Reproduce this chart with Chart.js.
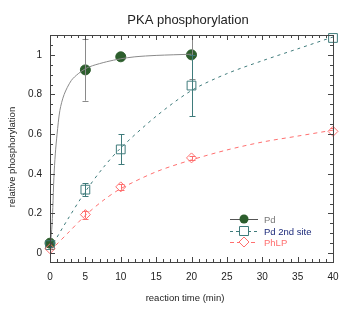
<!DOCTYPE html>
<html lang="en">
<head>
<meta charset="UTF-8">
<title>PKA phosphorylation</title>
<script src="https://cdn.jsdelivr.net/npm/chart.js"></script>
<style>
  html, body { margin: 0; padding: 0; background: #fff; }
  #wrap { width: 343px; height: 331px; }
</style>
</head>
<body>
<div id="wrap"><canvas id="chart" width="343" height="331"></canvas></div>
<script>
// measured points
const timeMin = [0, 5, 10, 20, 40];
const pdTime = [0, 5, 10, 20];
const pdValues = [0.05, 0.924, 0.99, 1.0];
const pdErr = [0, 0.155, 0, 0.12];
const pd2Values = [0.04, 0.32, 0.523, 0.845, 1.085];
const pd2Err = [0.01, 0.033, 0.076, 0.155, 0];
const phlpValues = [0.022, 0.194, 0.334, 0.48, 0.614];
const phlpErr = [0, 0.02, 0.015, 0.01, 0.015];

// fitted curves
const pdFitX = [0, 0.12, 0.25, 0.4, 0.55, 0.75, 1, 1.4, 2, 3, 4, 5, 6, 8, 10, 12, 15, 20];
const pdFitY = [0.03, 0.07, 0.12, 0.23, 0.38, 0.5, 0.6, 0.72, 0.8, 0.87, 0.905, 0.93, 0.945, 0.965, 0.98, 0.99, 0.997, 1.003];
const pd2FitX = [0, 2.5, 5, 7.5, 10, 15, 20, 25, 30, 35, 40];
const pd2FitY = [0.02, 0.17, 0.31, 0.43, 0.53, 0.69, 0.82, 0.905, 0.97, 1.03, 1.09];
const phlpFitX = [0, 2.5, 5, 7.5, 10, 15, 20, 25, 30, 35, 40];
const phlpFitY = [0.01, 0.1, 0.19, 0.265, 0.325, 0.41, 0.47, 0.52, 0.56, 0.59, 0.62];

const xTicks = [0, 5, 10, 15, 20, 25, 30, 35, 40];
const yTicks = [0, 0.2, 0.4, 0.6, 0.8, 1];
const yTickLabels = ['0', '0.2', '0.4', '0.6', '0.8', '1'];

const GREEN = '#2d5e2d', GREY = '#8a8a8a', TEAL = '#3f7b7b', NAVY = '#1c2a7a', RED = '#ff6f6f';
const FONT = '"Liberation Sans", Arial, sans-serif';

function pts(xs, ys) { return xs.map((x, i) => ({ x: x, y: ys[i] })); }

// error bars, frame, ticks, labels and legend
const extras = {
  id: 'extras',
  afterDatasetsDraw(chart) {
    const ctx = chart.ctx, xs = chart.scales.x, ys = chart.scales.y;
    const L = xs.getPixelForValue(0), R = xs.getPixelForValue(40);
    const T = ys.getPixelForValue(ys.max), B = ys.getPixelForValue(ys.min);
    const bars = [
      [pdTime, pdValues, pdErr, GREY],
      [timeMin, pd2Values, pd2Err, TEAL],
      [timeMin, phlpValues, phlpErr, RED]
    ];
    ctx.save();
    ctx.beginPath();
    ctx.rect(L, T, R - L, B - T);
    ctx.clip();
    bars.forEach(([tx, v, e, c]) => {
      ctx.strokeStyle = c;
      ctx.lineWidth = 1;
      tx.forEach((t, i) => {
        if (!e[i]) return;
        const px = Math.round(xs.getPixelForValue(t)) + 0.5;
        const y1 = ys.getPixelForValue(v[i] - e[i]), y2 = ys.getPixelForValue(v[i] + e[i]);
        ctx.beginPath();
        ctx.moveTo(px, y1); ctx.lineTo(px, y2);
        ctx.moveTo(px - 3, Math.round(y1) + 0.5); ctx.lineTo(px + 3, Math.round(y1) + 0.5);
        ctx.moveTo(px - 3, Math.round(y2) + 0.5); ctx.lineTo(px + 3, Math.round(y2) + 0.5);
        ctx.stroke();
      });
    });
    ctx.restore();

    // frame and inward ticks
    ctx.save();
    ctx.strokeStyle = '#444';
    ctx.lineWidth = 1;
    ctx.strokeRect(Math.round(L) + 0.5, Math.round(T) + 0.5, Math.round(R - L), Math.round(B - T));
    ctx.beginPath();
    for (let t = 0; t <= 40; t += 1) {
      const px = Math.round(xs.getPixelForValue(t)) + 0.5;
      const len = t % 5 === 0 ? 5 : 3;
      ctx.moveTo(px, B); ctx.lineTo(px, B - len);
      ctx.moveTo(px, T); ctx.lineTo(px, T + len);
    }
    for (let k = 0; k <= 22; k++) {
      const v = k * 0.05;
      const py = Math.round(ys.getPixelForValue(v)) + 0.5;
      const len = k % 4 === 0 ? 5 : 3;
      ctx.moveTo(L, py); ctx.lineTo(L + len, py);
      ctx.moveTo(R, py); ctx.lineTo(R - len, py);
    }
    ctx.stroke();

    // tick labels
    ctx.fillStyle = '#222';
    ctx.font = '10px ' + FONT;
    ctx.textBaseline = 'middle';
    ctx.textAlign = 'center';
    xTicks.forEach(t => ctx.fillText(String(t), xs.getPixelForValue(t), 277));
    ctx.textAlign = 'right';
    yTicks.forEach((v, i) => ctx.fillText(yTickLabels[i], 42, ys.getPixelForValue(v)));

    // titles
    ctx.textAlign = 'center';
    ctx.font = '13px ' + FONT;
    ctx.fillText('PKA phosphorylation', 188, 20);
    ctx.font = '9.5px ' + FONT;
    ctx.fillText('reaction time (min)', 185, 298);
    ctx.save();
    ctx.translate(12, 157);
    ctx.rotate(-Math.PI / 2);
    ctx.fillText('relative phosphorylation', 0, 0);
    ctx.restore();

    // legend
    const lx0 = 230, lx1 = 258, tx = 264;
    const rows = [
      { y: 219, text: 'Pd', tc: '#777', lc: '#555', dash: [], shape: 'circle' },
      { y: 231, text: 'Pd 2nd site', tc: NAVY, lc: TEAL, dash: [3, 3], shape: 'rect' },
      { y: 242, text: 'PhLP', tc: RED, lc: RED, dash: [4, 3], shape: 'diamond' }
    ];
    ctx.textAlign = 'left';
    ctx.font = '9.5px ' + FONT;
    rows.forEach(r => {
      ctx.strokeStyle = r.lc;
      ctx.setLineDash(r.dash);
      ctx.beginPath();
      ctx.moveTo(lx0, r.y + 0.5); ctx.lineTo(lx1, r.y + 0.5);
      ctx.stroke();
      ctx.setLineDash([]);
      const cx = (lx0 + lx1) / 2;
      ctx.beginPath();
      if (r.shape === 'circle') {
        ctx.fillStyle = GREEN;
        ctx.arc(cx, r.y, 4.5, 0, Math.PI * 2);
        ctx.fill();
      } else if (r.shape === 'rect') {
        ctx.fillStyle = '#fff';
        ctx.strokeStyle = TEAL;
        ctx.rect(cx - 4.5, r.y - 4.5, 9, 9);
        ctx.fill(); ctx.stroke();
      } else {
        ctx.fillStyle = '#fff';
        ctx.strokeStyle = RED;
        ctx.moveTo(cx, r.y - 5); ctx.lineTo(cx + 5, r.y); ctx.lineTo(cx, r.y + 5); ctx.lineTo(cx - 5, r.y); ctx.closePath();
        ctx.fill(); ctx.stroke();
      }
      ctx.fillStyle = r.tc;
      ctx.fillText(r.text, tx, r.y + 1);
    });
    ctx.restore();
  }
};

new Chart(document.getElementById('chart'), {
  type: 'scatter',
  data: {
    datasets: [
      { data: pts(pdFitX, pdFitY), showLine: true, borderColor: GREY, borderWidth: 1, pointRadius: 0, tension: 0.3 },
      { data: pts(pd2FitX, pd2FitY), showLine: true, borderColor: TEAL, borderWidth: 1, borderDash: [3, 4], pointRadius: 0, tension: 0.3 },
      { data: pts(phlpFitX, phlpFitY), showLine: true, borderColor: RED, borderWidth: 1, borderDash: [4, 4], pointRadius: 0, tension: 0.3 },
      { data: pts(timeMin, phlpValues), pointStyle: 'rectRot', pointRadius: 5, pointBackgroundColor: 'rgba(255,255,255,0)', pointBorderColor: RED, pointBorderWidth: 1, clip: false },
      { data: pts(timeMin, pd2Values), pointStyle: 'rect', pointRadius: 6.2, pointBackgroundColor: 'rgba(255,255,255,0)', pointBorderColor: TEAL, pointBorderWidth: 1, clip: false },
      { data: pts(pdTime, pdValues), pointStyle: 'circle', pointRadius: 5, pointBackgroundColor: GREEN, pointBorderColor: GREEN, clip: false }
    ]
  },
  plugins: [extras],
  options: {
    responsive: false,
    animation: false,
    layout: { padding: { top: 35, right: 10, left: 0, bottom: 0 } },
    plugins: { legend: { display: false }, tooltip: { enabled: false }, title: { display: false } },
    scales: {
      x: {
        type: 'linear', min: 0, max: 40,
        grid: { display: false },
        border: { display: false },
        ticks: { display: false },
        afterFit: s => { s.height = 69; s.paddingLeft = 0; s.paddingRight = 0; }
      },
      y: {
        type: 'linear', min: -0.045, max: 1.1,
        grid: { display: false },
        border: { display: false },
        ticks: { display: false },
        afterFit: s => { s.width = 50; s.paddingTop = 0; s.paddingBottom = 0; }
      }
    }
  }
});
</script>
</body>
</html>
